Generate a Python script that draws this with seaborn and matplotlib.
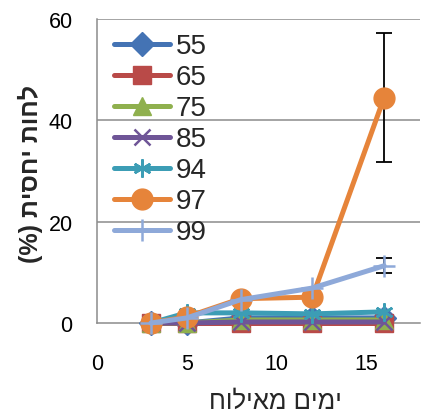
import numpy as np
import pandas as pd
import seaborn as sns
import matplotlib
matplotlib.use("Agg")
import matplotlib.pyplot as plt
from matplotlib.lines import Line2D

sns.set_theme(style="white")
plt.rcParams['font.family'] = ['Liberation Sans', 'DejaVu Sans']

# ---- data ----
days = [3, 5, 8, 12, 16]
series_names = ['55', '65', '75', '85', '94', '97', '99']
s55 = [0, 0.0, 1.0, 1.0, 1.0]
s65 = [0, 0, 0, 0, 0]
s75 = [0, 0, 0.6, 0.6, 0.6]
s85 = [0, 0, 0.2, 0.2, 0.2]
s94 = [0, 2.0, 2.0, 1.8, 2.2]
s97 = [0, 1.2, 4.8, 5.1, 44.5]
s99 = [0, 1.0, 4.6, 6.9, 11.3]
err97 = [0, 0, 0, 0, 12.7]
err99 = [0, 0, 0, 0, 1.5]
values = [s55, s65, s75, s85, s94, s97, s99]
errors = {'97': err97, '99': err99}

x_ticks = [0, 5, 10, 15]
y_ticks = [0, 20, 40, 60]
xlabel_vis = "חוליאמ םימי"          # ימים מאילוח (visual order)
ylabel_vis = "(%) תיסחי תוחל"       # לחות יחסית (%) (visual order)

colors = ['#4473B4', '#B94A48', '#8FB04E', '#6F5597', '#3C9DB5', '#E6843A', '#8EA9D9']
markers = ['D', 's', '^', 'x', (6, 2, 0), 'o', '+']
msizes = [12, 13.5, 13, 12, 13, 15, 16]
mews = [1, 1, 1, 1.8, 1.8, 1, 1.8]

W, H = 422, 414
fig = plt.figure(figsize=(W / 100, H / 100), dpi=100)
L, R, T, B = 97, 420, 20, 324
ax = fig.add_axes([L / W, 1 - B / H, (R - L) / W, (B - T) / H])

grid_c = '#8C8C8C'
# error bars (under series)
for name, vals in zip(series_names, values):
    if name in errors:
        e = errors[name]
        xs = [d for d, ee in zip(days, e) if ee > 0]
        ys = [v for v, ee in zip(vals, e) if ee > 0]
        es = [ee for ee in e if ee > 0]
        ax.errorbar(xs, ys, yerr=es, fmt='none', ecolor='black',
                    elinewidth=1.3, capsize=5.5, capthick=1.3, zorder=2,
                    clip_on=False)

handles = []
for i, (name, vals) in enumerate(zip(series_names, values)):
    df = pd.DataFrame({'day': days, 'val': vals})
    sns.lineplot(data=df, x='day', y='val', ax=ax, color=colors[i],
                 marker=markers[i], markersize=msizes[i], mec=colors[i],
                 mfc=colors[i], mew=mews[i], lw=3.6, clip_on=False,
                 zorder=3 + i, legend=False)
    handles.append(Line2D([], [], color=colors[i], marker=markers[i],
                          markersize=msizes[i], mec=colors[i],
                          mfc=colors[i], mew=mews[i], lw=3.6,
                          solid_capstyle='round'))

ax.set_xlim(0, 18)
ax.set_ylim(0, 60)
ax.set_xticks(x_ticks)
ax.set_yticks(y_ticks)
ax.tick_params(axis='both', which='both', direction='out', length=6.5,
               width=1.1, color=grid_c, labelsize=15.5, labelcolor='black')
ax.tick_params(axis='x', pad=15)
ax.tick_params(axis='y', pad=11)
ax.grid(False)
for yv in y_ticks[1:]:
    ax.axhline(yv, color=grid_c, lw=1.1, zorder=0)
for s in ['top', 'right']:
    ax.spines[s].set_visible(False)
for s in ['left', 'bottom']:
    ax.spines[s].set_color(grid_c)
    ax.spines[s].set_linewidth(1.1)
ax.set_xlabel('')
ax.set_ylabel('')
ax.set_facecolor('white')

leg = ax.legend(handles, series_names, loc='upper left',
                bbox_to_anchor=(0.045, 0.962), frameon=False,
                fontsize=20, handlelength=2.0, handletextpad=0.2,
                labelspacing=0.18, borderaxespad=0, borderpad=0.1,
                numpoints=1)

fig.text(30 / W, 1 - 174 / H, ylabel_vis, rotation=90, ha='center',
         va='center', fontsize=18, fontweight='bold')
fig.text(275 / W, 1 - 390 / H, xlabel_vis, ha='center', va='top',
         fontsize=18.5)

fig.savefig('out.png', dpi=100, facecolor='white')
